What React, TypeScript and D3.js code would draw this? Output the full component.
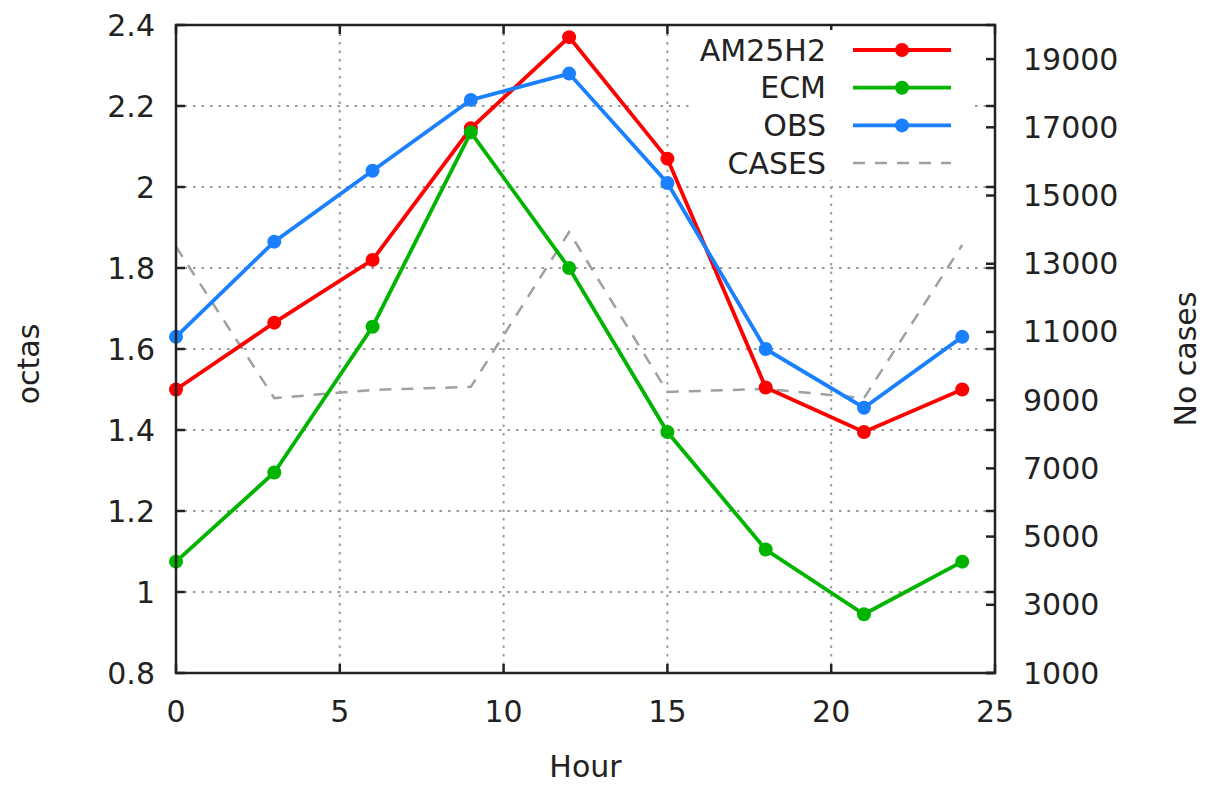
import * as d3 from 'd3';
import { useRef, useEffect } from 'react';

// hours of the day
const hours = [0, 3, 6, 9, 12, 15, 18, 21, 24];
const am25h2 = [1.5, 1.665, 1.82, 2.145, 2.37, 2.07, 1.505, 1.395, 1.5];
const ecm = [1.075, 1.295, 1.655, 2.135, 1.8, 1.395, 1.105, 0.945, 1.075];
const obs = [1.63, 1.865, 2.04, 2.215, 2.28, 2.01, 1.6, 1.455, 1.63];
const cases = [13500, 9060, 9300, 9390, 13930, 9240, 9330, 9060, 13550];

const xTicks = [0, 5, 10, 15, 20, 25];
const yTicks = [0.8, 1, 1.2, 1.4, 1.6, 1.8, 2, 2.2, 2.4];
const y2Ticks = [1000, 3000, 5000, 7000, 9000, 11000, 13000, 15000, 17000, 19000];

const series = [
  { name: 'AM25H2', values: am25h2, color: '#ff0000' },
  { name: 'ECM', values: ecm, color: '#00b400' },
  { name: 'OBS', values: obs, color: '#1a80ff' },
];

export default function App() {
  const ref = useRef<SVGSVGElement>(null);

  useEffect(() => {
    const width = 1205;
    const height = 785;
    const marginLeft = 176;
    const marginRight = 210;
    const marginTop = 25;
    const marginBottom = 112;
    const font = "'DejaVu Sans', sans-serif";
    const fs = 30;

    const x = d3.scaleLinear().domain([0, 25]).range([marginLeft, width - marginRight]);
    const y = d3.scaleLinear().domain([0.8, 2.4]).range([height - marginBottom, marginTop]);
    const y2 = d3.scaleLinear().domain([1000, 20000]).range([height - marginBottom, marginTop]);

    const svg = d3.select(ref.current)
      .attr('width', width)
      .attr('height', height)
      .attr('viewBox', `0 0 ${width} ${height}`)
      .style('font-family', font)
      .style('display', 'block');

    svg.selectAll('*').remove();

    const x0 = marginLeft, x1 = width - marginRight;
    const yb = height - marginBottom, yt = marginTop;

    // grid
    const grid = svg.append('g')
      .attr('stroke', '#9a9a9a')
      .attr('stroke-width', 2)
      .attr('stroke-dasharray', '2.5,6');
    grid.selectAll('line.h')
      .data(yTicks.slice(1, -1))
      .join('line')
        .attr('class', 'h')
        .attr('x1', x0).attr('x2', x1)
        .attr('y1', d => y(d)).attr('y2', d => y(d));
    grid.selectAll('line.v')
      .data(xTicks.slice(1, -1))
      .join('line')
        .attr('class', 'v')
        .attr('x1', d => x(d)).attr('x2', d => x(d))
        .attr('y1', yt).attr('y2', yb);

    // ticks
    const ticks = svg.append('g').attr('stroke', '#222').attr('stroke-width', 2.5);
    xTicks.forEach(t => {
      ticks.append('line').attr('x1', x(t)).attr('x2', x(t)).attr('y1', yb).attr('y2', yb - 9);
      ticks.append('line').attr('x1', x(t)).attr('x2', x(t)).attr('y1', yt).attr('y2', yt + 9);
    });
    yTicks.forEach(t => {
      ticks.append('line').attr('x1', x0).attr('x2', x0 + 9).attr('y1', y(t)).attr('y2', y(t));
      ticks.append('line').attr('x1', x1).attr('x2', x1 - 9).attr('y1', y(t)).attr('y2', y(t));
    });
    y2Ticks.forEach(t => {
      ticks.append('line').attr('x1', x1).attr('x2', x1 - 9).attr('y1', y2(t)).attr('y2', y2(t));
    });

    // cases (right axis)
    const caseLine = d3.line<number>()
      .x((_, i) => x(hours[i]))
      .y(d => y2(d));
    svg.append('path')
      .datum(cases)
      .attr('d', caseLine)
      .attr('fill', 'none')
      .attr('stroke', '#a0a0a0')
      .attr('stroke-width', 2.5)
      .attr('stroke-dasharray', '12,10');

    const line = d3.line<number>()
      .x((_, i) => x(hours[i]))
      .y(d => y(d));

    series.forEach(s => {
      svg.append('path')
        .datum(s.values)
        .attr('d', line)
        .attr('fill', 'none')
        .attr('stroke', s.color)
        .attr('stroke-width', 3.8);
      svg.append('g')
        .selectAll('circle')
        .data(s.values)
        .join('circle')
          .attr('cx', (_, i) => x(hours[i]))
          .attr('cy', d => y(d))
          .attr('r', 7)
          .attr('fill', s.color);
    });

    // frame
    svg.append('rect')
      .attr('x', x0).attr('y', yt)
      .attr('width', x1 - x0).attr('height', yb - yt)
      .attr('fill', 'none')
      .attr('stroke', '#222')
      .attr('stroke-width', 2.5);

    // legend
    const legend = svg.append('g');
    legend.append('rect')
      .attr('x', 690).attr('y', 30)
      .attr('width', 282).attr('height', 150)
      .attr('fill', 'white');
    const legendItems = [
      ...series.map(s => ({ name: s.name, color: s.color, dashed: false })),
      { name: 'CASES', color: '#a0a0a0', dashed: true },
    ];
    legendItems.forEach((item, i) => {
      const ly = 50 + i * 37.7;
      legend.append('text')
        .attr('x', 826).attr('y', ly)
        .attr('dy', '0.35em')
        .attr('text-anchor', 'end')
        .attr('font-size', fs)
        .attr('fill', '#222')
        .text(item.name);
      legend.append('line')
        .attr('x1', 853).attr('x2', 951)
        .attr('y1', ly).attr('y2', ly)
        .attr('stroke', item.color)
        .attr('stroke-width', item.dashed ? 2.5 : 3.8)
        .attr('stroke-dasharray', item.dashed ? '12,10' : null);
      if (!item.dashed) {
        legend.append('circle')
          .attr('cx', 902).attr('cy', ly)
          .attr('r', 7)
          .attr('fill', item.color);
      }
    });

    // tick labels
    const labels = svg.append('g').attr('font-size', fs).attr('fill', '#222');
    xTicks.forEach(t => {
      labels.append('text')
        .attr('x', x(t)).attr('y', yb + 38)
        .attr('dy', '0.35em')
        .attr('text-anchor', 'middle')
        .text(t);
    });
    yTicks.forEach(t => {
      labels.append('text')
        .attr('x', x0 - 21).attr('y', y(t))
        .attr('dy', '0.35em')
        .attr('text-anchor', 'end')
        .text(d3.format('~g')(t));
    });
    y2Ticks.forEach(t => {
      labels.append('text')
        .attr('x', x1 + 28).attr('y', y2(t))
        .attr('dy', '0.35em')
        .attr('text-anchor', 'start')
        .text(t);
    });

    // axis titles
    labels.append('text')
      .attr('x', (x0 + x1) / 2).attr('y', 766)
      .attr('dy', '0.35em')
      .attr('text-anchor', 'middle')
      .text('Hour');
    labels.append('text')
      .attr('transform', `translate(28,${(yt + yb) / 2 + 15}) rotate(-90)`)
      .attr('dy', '0.35em')
      .attr('text-anchor', 'middle')
      .text('octas');
    labels.append('text')
      .attr('transform', `translate(1185,${(yt + yb) / 2 + 10}) rotate(-90)`)
      .attr('dy', '0.35em')
      .attr('text-anchor', 'middle')
      .text('No cases');
  }, []);

  return (
    <div style={{ position: 'absolute', left: 0, top: 0 }}>
      <svg ref={ref}></svg>
    </div>
  );
}
